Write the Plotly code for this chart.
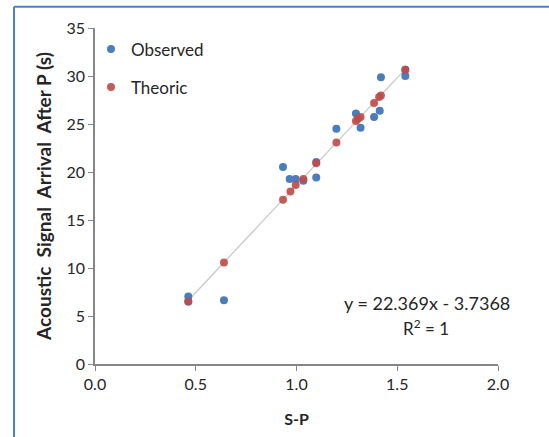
import plotly.graph_objects as go

# Observed series
obs_x = [0.463, 0.463, 0.640, 0.933, 0.966, 0.996, 1.034, 1.098, 1.098, 1.198,
         1.295, 1.318, 1.385, 1.413, 1.419, 1.540, 1.540]
obs_y = [7.04, 6.52, 6.63, 20.52, 19.27, 19.27, 19.09, 21.04, 19.44, 24.51,
         26.10, 24.60, 25.73, 26.39, 29.86, 30.00, 30.65]

# Theoric series
th_x = [0.463, 0.640, 0.933, 0.970, 0.996, 1.034, 1.098, 1.198, 1.295, 1.305,
        1.318, 1.385, 1.410, 1.419, 1.540]
th_y = [6.52, 10.58, 17.11, 17.98, 18.64, 19.27, 20.90, 23.08, 25.31, 25.55,
        25.73, 27.19, 27.80, 27.98, 30.66]

# Trendline coefficients (as displayed)
slope = 22.369
intercept = -3.7368
trend_x = [min(th_x), max(th_x)]
trend_y = [slope * v + intercept for v in trend_x]

x_ticks = [0.0, 0.5, 1.0, 1.5, 2.0]
y_ticks = [0, 5, 10, 15, 20, 25, 30, 35]

FONT = "Lato"
TXT = "#262626"


def px_to_paper(px, py):
    return (px - 95) / 403.0, (364 - py) / 336.0


fig = go.Figure()
fig.add_trace(go.Scatter(x=trend_x, y=trend_y, mode="lines",
                         line=dict(color="#C8C8C8", width=1.3),
                         showlegend=False, hoverinfo="skip"))
fig.add_trace(go.Scatter(x=obs_x, y=obs_y, mode="markers", name="Observed",
                         legendgroup="a",
                         marker=dict(color="#4A7EBB", size=8, line=dict(width=0))))
fig.add_trace(go.Scatter(x=th_x, y=th_y, mode="markers", name="Theoric",
                         legendgroup="b",
                         marker=dict(color="#BE4B48", size=8, opacity=0.9,
                                     line=dict(width=0))))

ax, ay = px_to_paper(427, 303)
ax2, ay2 = px_to_paper(426, 327)

fig.update_layout(
    width=549, height=437,
    margin=dict(l=95, r=51, t=28, b=73),
    paper_bgcolor="white", plot_bgcolor="white",
    font=dict(family=FONT, size=16, color=TXT),
    legend=dict(x=-0.01, y=0.99, xanchor="left", yanchor="top",
                bgcolor="rgba(0,0,0,0)", font=dict(size=17, color=TXT),
                itemsizing="trace", traceorder="grouped", tracegroupgap=13,
                itemwidth=30),
    xaxis=dict(range=[0, 2], tickvals=x_ticks, tickformat=".1f",
               showgrid=False, zeroline=False, showline=True,
               linecolor="#868686", linewidth=1.5, ticks="outside",
               ticklen=5, tickcolor="#868686", tickfont=dict(size=16, color=TXT),
               title=dict(text="<b>S-P</b>", font=dict(size=16, color=TXT), standoff=22)),
    yaxis=dict(range=[0, 35], tickvals=y_ticks,
               showgrid=False, zeroline=False, showline=True,
               linecolor="#868686", linewidth=1.5, ticks="outside",
               ticklen=5, tickcolor="#868686", tickfont=dict(size=16, color=TXT),
               title=dict(text="<b>Acoustic  Signal  Arrival  After P (s)</b>",
                          font=dict(size=19, color=TXT), standoff=10)),
    annotations=[
        dict(x=ax, y=ay, xref="paper", yref="paper", xanchor="center",
             yanchor="middle", showarrow=False,
             text="y = 22.369x - 3.7368", font=dict(size=18, color=TXT)),
        dict(x=ax2, y=ay2, xref="paper", yref="paper", xanchor="center",
             yanchor="middle", showarrow=False,
             text="R<sup>2</sup> = 1", font=dict(size=17, color=TXT)),
    ],
    shapes=[
        dict(type="line", xref="paper", yref="paper", x0=-0.201, x1=-0.201,
             y0=-0.3, y1=1.063, line=dict(color="#4F7FC8", width=2)),
        dict(type="line", xref="paper", yref="paper", x0=-0.201, x1=1.2,
             y0=1.063, y1=1.063, line=dict(color="#4F7FC8", width=2)),
    ],
)

fig.write_html("out.html")
